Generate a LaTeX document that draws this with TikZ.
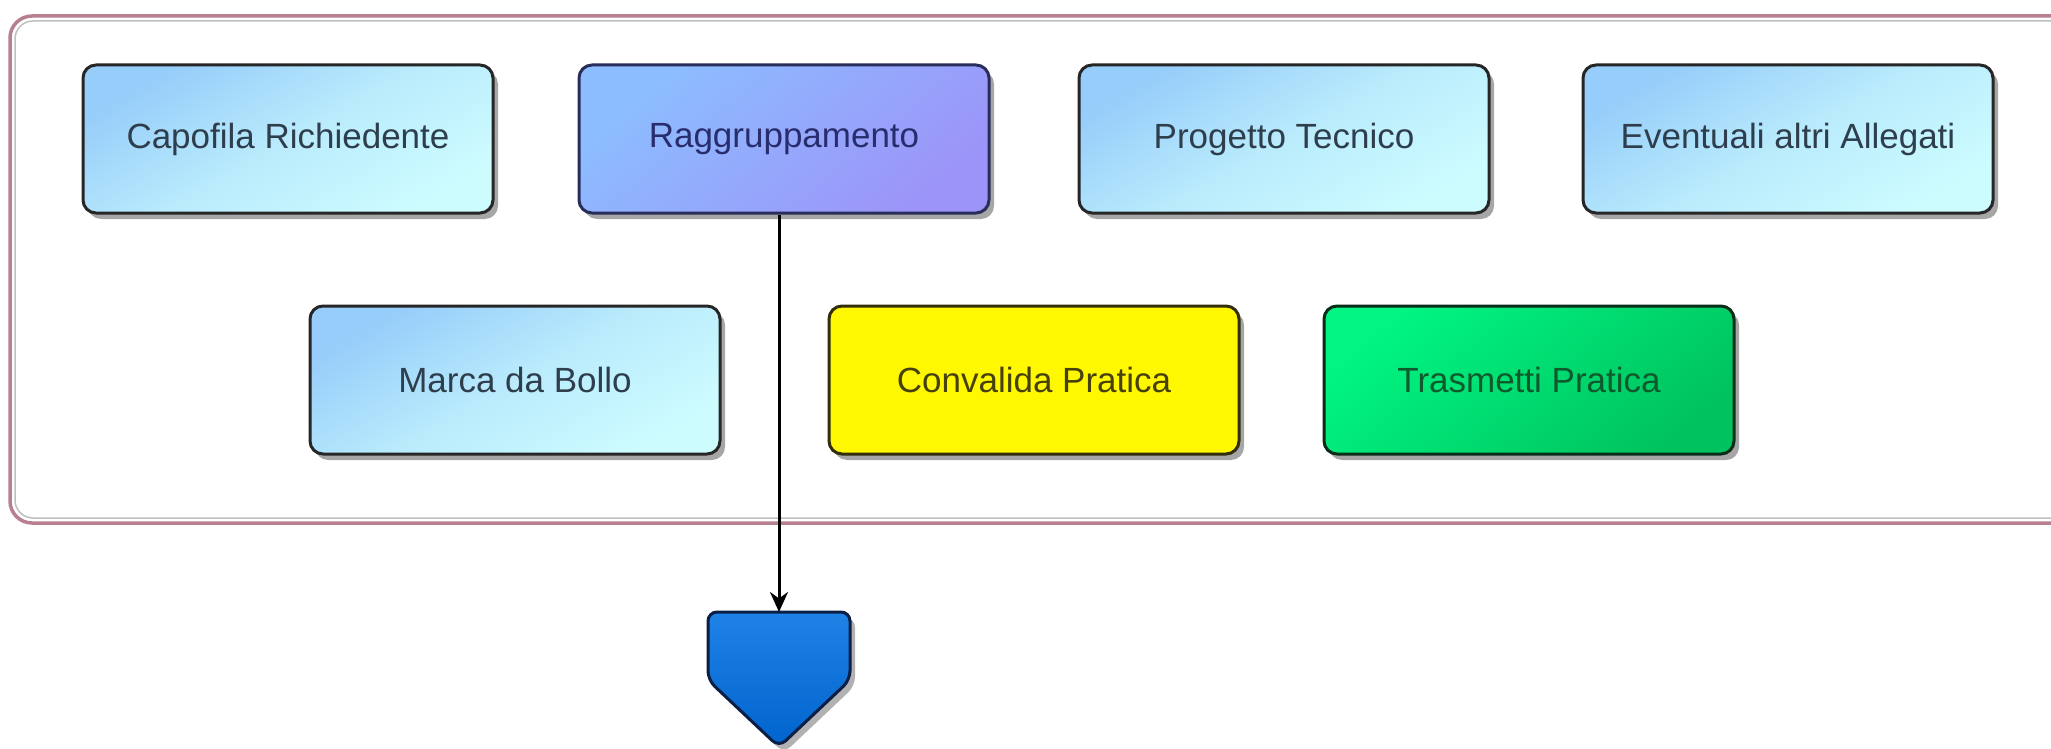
\documentclass[tikz,border=0pt]{standalone}
\usepackage{fontspec}
\setmainfont{Liberation Sans}
\usetikzlibrary{shadows,arrows.meta}
\definecolor{framec}{HTML}{B8808F}
\definecolor{txtblue}{HTML}{2E3E4C}
\tikzset{
  box/.style={rectangle, rounded corners=13pt, line width=3pt, draw=black!85,
    minimum width=410pt, minimum height=148pt,
    font=\fontsize{35}{40}\selectfont, text=txtblue,
    drop shadow={shadow xshift=5pt, shadow yshift=-6pt, fill=black, opacity=0.35}},
  lightbox/.style={box, top color={rgb,255:red,150;green,205;blue,250},
    bottom color={rgb,255:red,205;green,252;blue,255},
    middle color={rgb,255:red,185;green,235;blue,252}, shading angle=30},
  violetbox/.style={box, top color={rgb,255:red,140;green,190;blue,255}, bottom color={rgb,255:red,156;green,148;blue,248}, shading angle=40,
    draw={rgb,255:red,40;green,45;blue,90}, text={rgb,255:red,40;green,45;blue,110}},
  yellowbox/.style={box, fill={rgb,255:red,255;green,248;blue,0}, draw={rgb,255:red,50;green,45;blue,10}, text={rgb,255:red,70;green,65;blue,10}},
  greenbox/.style={box, top color={rgb,255:red,0;green,245;blue,130}, bottom color={rgb,255:red,0;green,195;blue,95}, shading angle=40,
    draw={rgb,255:red,10;green,45;blue,25}, text={rgb,255:red,15;green,90;blue,45}},
  flowarrow/.style={line width=3pt, draw=black, -{Stealth[length=20pt,width=18pt]}},
}
\begin{document}
\begin{tikzpicture}[x=1pt,y=-1pt]
\useasboundingbox (0,0) rectangle (2051,749);
\fill[white] (0,0) rectangle (2051,749);
\clip (0,0) rectangle (2051,749);
% frame
\draw[line width=3.5pt, draw=framec, rounded corners=22pt] (10,16) rectangle (2100,523);
\draw[line width=1.5pt, draw=black!25, rounded corners=18pt] (15,21) rectangle (2095,518);
% boxes row 1
\node[lightbox] (cap) at (288,139) {Capofila Richiedente};
\node[violetbox] (rag) at (784,139) {Raggruppamento};
\node[lightbox] (pro) at (1284,139) {Progetto Tecnico};
\node[lightbox] (eve) at (1788,139) {Eventuali altri Allegati};
% boxes row 2
\node[lightbox] (mar) at (515,380) {Marca da Bollo};
\node[yellowbox] (con) at (1034,380) {Convalida Pratica};
\node[greenbox] (tra) at (1529,380) {Trasmetti Pratica};
% end shape
\fill[black, opacity=0.3, rounded corners=9pt, xshift=5pt, yshift=-6pt]
  (708,612) -- (850,612) -- (850,680) -- (779,747) -- (708,680) -- cycle;
\shade[top color={rgb,255:red,30;green,130;blue,230}, bottom color={rgb,255:red,0;green,100;blue,205},
  draw={rgb,255:red,10;green,30;blue,70}, line width=3pt, rounded corners=9pt]
  (708,612) -- (850,612) -- (850,680) -- (779,747) -- (708,680) -- cycle;
\coordinate (endtop) at (779,612);
\draw[flowarrow] (rag.south -| endtop) -- (endtop);
\end{tikzpicture}
\end{document}
